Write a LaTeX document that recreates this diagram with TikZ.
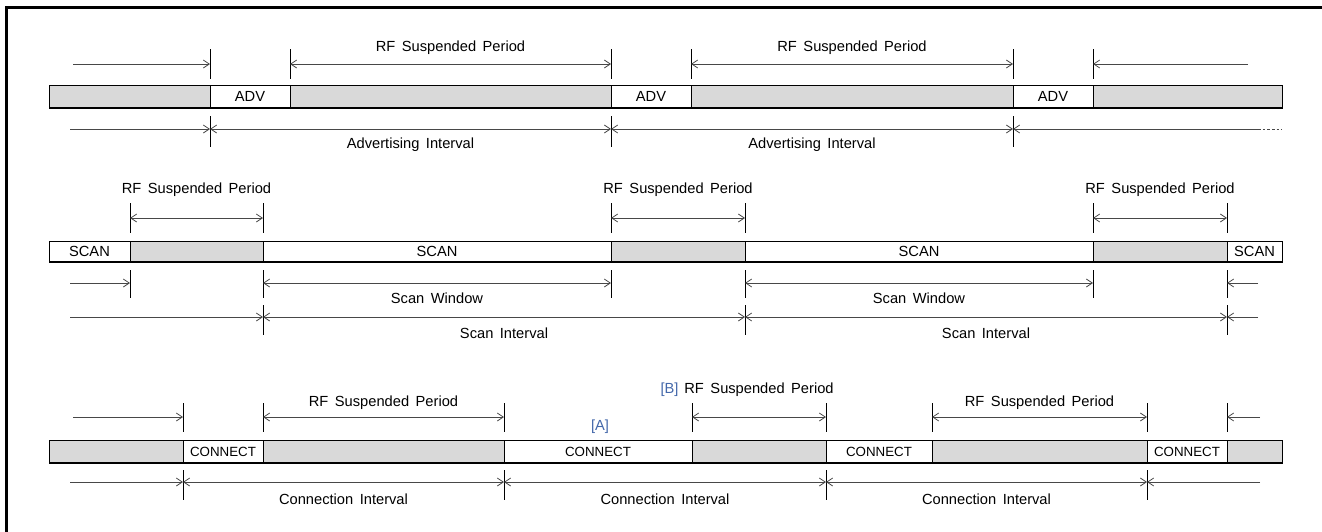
\documentclass[tikz,border=0pt]{standalone}
\usepackage{fontspec}
\setmainfont{Liberation Sans}[WordSpace=1.6]
\usetikzlibrary{arrows.meta}
\definecolor{slotgray}{RGB}{217,217,217}
\definecolor{dimgray}{RGB}{72,72,72}
\definecolor{tagblue}{RGB}{68,104,170}
\begin{document}
\begin{tikzpicture}[x=0.75pt,y=-0.75pt,
  font=\fontsize{11}{13}\selectfont,
  idle/.style={draw=black,line width=0.7pt,fill=slotgray},
  busy/.style={draw=black,line width=0.7pt,fill=white},
  barbase/.style={draw=black,line width=1.1pt},
  tick/.style={draw=black,line width=0.7pt},
  barb/.tip={Straight Barb[length=4.5pt,width=6pt]},
  span/.style={draw=dimgray,line width=0.6pt,barb-barb},
  lead/.style={draw=dimgray,line width=0.6pt,-barb},
  lbl/.style={inner sep=0pt,anchor=center},
  tag/.style={lbl,text=tagblue},
  small/.style={font=\fontsize{10}{12}\selectfont}]
\useasboundingbox (0,0) rectangle (1322,532);

% frame
\draw[line width=2.3pt] (6.5,532) -- (6.5,7.5) -- (1322,7.5);

% ---------------- advertising ----------------
\foreach \a/\b in {49/210,290/611,691/1013,1093/1282}
  \draw[idle] (\a,85) rectangle (\b,108);
\foreach \a/\b in {210/290,611/691,1013/1093}
  \draw[busy] (\a,85) rectangle (\b,108);
\draw[barbase] (49,108) -- (1282,108);
\node[lbl] (adv1) at (250,96.5) {ADV};
\node[lbl] (adv2) at (651,96.5) {ADV};
\node[lbl] (adv3) at (1053,96.5) {ADV};

\foreach \x in {210,290,611,691,1013,1093}
  \draw[tick] (\x,49) -- (\x,79);
\foreach \n/\x in {s/73,a/210,b/290,c/611,d/691,e/1013,f/1093,z/1248}
  \coordinate (ua\n) at (\x,64);
\draw[lead] (uas) -- (uaa);
\draw[span] (uab) -- (uac);
\draw[span] (uad) -- (uae);
\draw[lead] (uaz) -- (uaf);
\node[lbl] (rfa1) at (450.5,48) {RF Suspended Period};
\node[lbl] (rfa2) at (852,48) {RF Suspended Period};

\foreach \x in {210,611,1013}
  \draw[tick] (\x,116) -- (\x,147);
\foreach \n/\x in {s/70,a/210,c/611,e/1013,z/1258,w/1282}
  \coordinate (la\n) at (\x,129);
\draw[lead] (las) -- (laa);
\draw[span] (laa) -- (lac);
\draw[span] (lac) -- (lae);
\draw[lead] (laz) -- (lae);
\draw[dimgray,line width=0.6pt,dash pattern=on 2pt off 1.5pt] (laz) -- (law);
\node[lbl] (ai1) at (410.5,145) {Advertising Interval};
\node[lbl] (ai2) at (812,145) {Advertising Interval};

% ---------------- scanning ----------------
\foreach \a/\b in {130/263,611/745,1093/1227}
  \draw[idle] (\a,241) rectangle (\b,262);
\foreach \a/\b in {49/130,263/611,745/1093,1227/1282}
  \draw[busy] (\a,241) rectangle (\b,262);
\draw[barbase] (49,262) -- (1282,262);
\node[lbl] (scan1) at (89.5,251.5) {SCAN};
\node[lbl] (scan2) at (437,251.5) {SCAN};
\node[lbl] (scan3) at (919,251.5) {SCAN};
\node[lbl] (scan4) at (1254.5,251.5) {SCAN};

\foreach \x in {130,263,611,745,1093,1227}
  \draw[tick] (\x,203) -- (\x,233);
\foreach \n/\x in {a/130,b/263,c/611,d/745,e/1093,f/1227}
  \coordinate (us\n) at (\x,218);
\draw[span] (usa) -- (usb);
\draw[span] (usc) -- (usd);
\draw[span] (use) -- (usf);
\node[lbl] (rfs1) at (196.5,190) {RF Suspended Period};
\node[lbl] (rfs2) at (678,190) {RF Suspended Period};
\node[lbl] (rfs3) at (1160,190) {RF Suspended Period};

\foreach \x in {130,263,611,745,1093,1227}
  \draw[tick] (\x,270) -- (\x,298);
\foreach \n/\x in {s/70,a/130,b/263,c/611,d/745,e/1093,f/1227,z/1258}
  \coordinate (ws\n) at (\x,283);
\draw[lead] (wss) -- (wsa);
\draw[span] (wsb) -- (wsc);
\draw[span] (wsd) -- (wse);
\draw[lead] (wsz) -- (wsf);
\node[lbl] (sw1) at (437,298.5) {Scan Window};
\node[lbl] (sw2) at (919,298.5) {Scan Window};

\foreach \x in {263,745,1227}
  \draw[tick] (\x,305) -- (\x,335);
\foreach \n/\x in {s/70,b/263,d/745,f/1227,z/1258}
  \coordinate (is\n) at (\x,317);
\draw[lead] (iss) -- (isb);
\draw[span] (isb) -- (isd);
\draw[span] (isd) -- (isf);
\draw[lead] (isz) -- (isf);
\node[lbl] (si1) at (504,333) {Scan Interval};
\node[lbl] (si2) at (986,333) {Scan Interval};

% ---------------- connection ----------------
\foreach \a/\b in {49/183,263/504,692/826,932/1147,1227/1282}
  \draw[idle] (\a,440) rectangle (\b,463);
\foreach \a/\b in {183/263,504/692,826/932,1147/1227}
  \draw[busy] (\a,440) rectangle (\b,463);
\draw[barbase] (49,463) -- (1282,463);
\node[lbl,small] (con1) at (223,451.5) {CONNECT};
\node[lbl,small] (con2) at (598,451.5) {CONNECT};
\node[lbl,small] (con3) at (879,451.5) {CONNECT};
\node[lbl,small] (con4) at (1187,451.5) {CONNECT};

\foreach \x in {183,263,504,692,826,932,1147,1227}
  \draw[tick] (\x,403) -- (\x,432);
\foreach \n/\x in {s/73,a/183,b/263,c/504,d/692,e/826,f/932,g/1147,h/1227,z/1260}
  \coordinate (uc\n) at (\x,417);
\draw[lead] (ucs) -- (uca);
\draw[span] (ucb) -- (ucc);
\draw[span] (ucd) -- (uce);
\draw[span] (ucf) -- (ucg);
\draw[lead] (ucz) -- (uch);
\node[lbl] (rfc1) at (383.5,403) {RF Suspended Period};
\node[lbl] (rfc2) at (759,389.5) {RF Suspended Period};
\node[tag,anchor=east] (tagB) at ([xshift=-4pt]rfc2.west) {[B]};
\node[lbl] (rfc3) at (1039.5,403) {RF Suspended Period};
\node[tag] (tagA) at (600,427) {[A]};

\foreach \x in {183,504,826,1147}
  \draw[tick] (\x,470) -- (\x,500);
\foreach \n/\x in {s/70,a/183,c/504,e/826,g/1147,z/1260}
  \coordinate (lc\n) at (\x,482);
\draw[lead] (lcs) -- (lca);
\draw[span] (lca) -- (lcc);
\draw[span] (lcc) -- (lce);
\draw[span] (lce) -- (lcg);
\draw[lead] (lcz) -- (lcg);
\node[lbl] (ci1) at (343.5,499.5) {Connection Interval};
\node[lbl] (ci2) at (665,499.5) {Connection Interval};
\node[lbl] (ci3) at (986.5,499.5) {Connection Interval};
\end{tikzpicture}
\end{document}
